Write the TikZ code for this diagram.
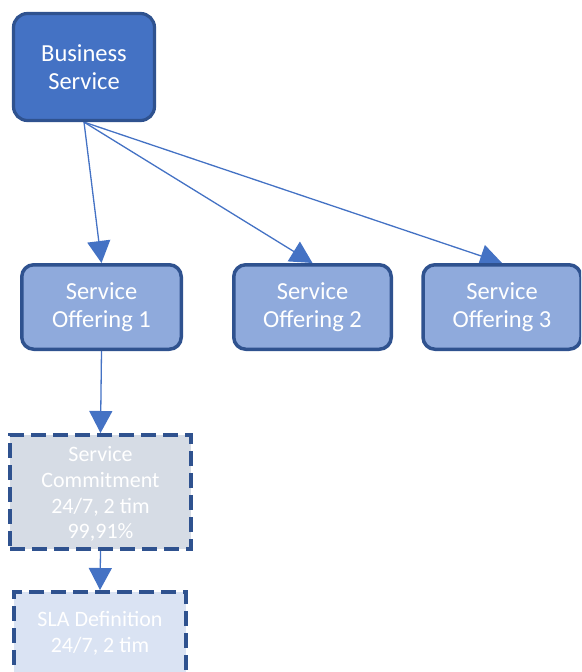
\documentclass[tikz,border=0pt]{standalone}
\usepackage{fontspec}
\setmainfont{Carlito}
\usetikzlibrary{arrows.meta,backgrounds}
\definecolor{bsfill}{HTML}{4472C4}
\definecolor{edgeblue}{HTML}{2F528F}
\definecolor{offill}{HTML}{8FAADC}
\definecolor{scfill}{HTML}{D6DCE5}
\definecolor{slafill}{HTML}{DAE3F3}
\definecolor{linkblue}{HTML}{4472C4}
\begin{document}
\begin{tikzpicture}[x=1pt,y=-1pt,
  label text/.style={text=white,align=center,font=\fontsize{24.5}{28.5}\selectfont,inner sep=0pt},
  small text/.style={text=white,align=center,inner sep=0pt},
  mainbox/.style={label text,draw=edgeblue,line width=3.2pt,fill=bsfill,rounded corners=14pt},
  offerbox/.style={label text,draw=edgeblue,line width=3.5pt,fill=offill,rounded corners=12pt,
    minimum height=84.5pt},
  dashbox/.style={draw=edgeblue,line width=4pt,dash pattern=on 15pt off 7pt,inner sep=0pt},
  link/.style={draw=linkblue,line width=1.3pt,-{Triangle[length=22pt,width=23pt]}}]
\useasboundingbox (0,0) rectangle (581,672);
\clip (0,0) rectangle (581,672);

% top level
\node[mainbox,minimum width=141pt,minimum height=107pt] (bs) at (84,67) {Business\\Service};

% offerings
\node[offerbox,minimum width=159.5pt] (o1) at (101.5,307) {Service\\Offering 1};
\node[offerbox,minimum width=157.5pt] (o2) at (312.5,307) {Service\\Offering 2};
\node[offerbox,minimum width=158pt]   (o3) at (502,307)   {Service\\Offering 3};

% commitment and SLA
\node[dashbox,fill=scfill,minimum width=181pt,minimum height=114pt] (sc) at (100.5,492) {};
\node[small text,font=\fontsize{22}{25.7}\selectfont] (sctext) at (100.5,494)
  {Service\\Commitment\\24/7, 2 tim\\99,91\%};
\node[dashbox,fill=slafill,minimum width=172pt,minimum height=82pt] (sla) at (100,633) {};
\node[small text,font=\fontsize{22}{25.5}\selectfont] (slatext) at (100,633.5)
  {SLA Definition\\24/7, 2 tim};

% connectors
\begin{scope}[on background layer]
  \draw[link] (bs.south) -- (o1.north);
  \draw[link] (bs.south) -- (o2.north);
  \draw[link] (bs.south) -- (o3.north);
  \draw[link] (o1.south) -- (sc.north);
  \draw[link] (sc.south) -- (sla.north);
\end{scope}
\end{tikzpicture}
\end{document}
